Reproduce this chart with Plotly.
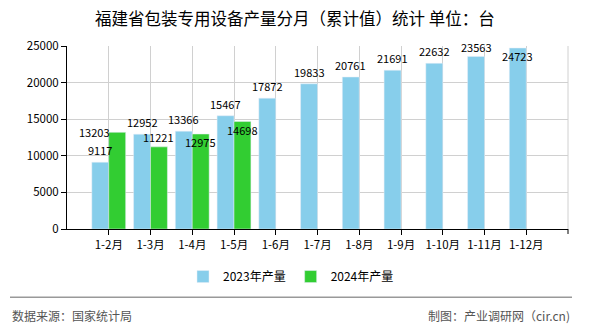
import plotly.graph_objects as go

categories = ["1-2月", "1-3月", "1-4月", "1-5月", "1-6月", "1-7月", "1-8月", "1-9月", "1-10月", "1-11月", "1-12月"]
values_2023 = [9117, 12952, 13366, 15467, 17872, 19833, 20761, 21691, 22632, 23563, 24723]
values_2024 = [13203, 11221, 12975, 14698]
series_names = ["2023年产量", "2024年产量"]
y_ticks = [0, 5000, 10000, 15000, 20000, 25000]

# label offsets (pixels) to mimic the reference label layout
shift_2023 = [(0, 12)] * 9 + [(0, 10), (0, -8)]
shift_2024 = [(-23, 0), (0, 10), (0, -8), (0, -9)]

C23 = "#87CEEB"
C24 = "#32CD32"
FONT = "Noto Sans CJK SC, Liberation Sans, sans-serif"

fig = go.Figure()
fig.add_trace(go.Bar(x=categories, y=values_2023, name=series_names[0], marker_color=C23))
fig.add_trace(go.Bar(x=categories[:len(values_2024)], y=values_2024, name=series_names[1], marker_color=C24))

half = 8.4
for c, v, (dx, dy) in zip(categories, values_2023, shift_2023):
    fig.add_annotation(x=c, y=v, text=str(v), showarrow=False, xshift=-half + dx, yshift=dy,
                       yanchor="middle", font=dict(size=11, color="#000", family=FONT))
for c, v, (dx, dy) in zip(categories, values_2024, shift_2024):
    fig.add_annotation(x=c, y=v, text=str(v), showarrow=False, xshift=half + dx, yshift=dy,
                       yanchor="middle", font=dict(size=11, color="#000", family=FONT))

# title
fig.add_annotation(text="福建省包装专用设备产量分月（累计值）统计 单位：台", xref="paper", yref="paper",
                   x=(295 - 67) / 501, y=(229.3 - 18) / 183.6, showarrow=False,
                   xanchor="center", yanchor="middle",
                   font=dict(size=16.5, color="#000", family=FONT))
# footer
fig.add_annotation(text="数据来源：国家统计局", xref="paper", yref="paper",
                   x=(10 - 67) / 501, y=(229.3 - 316) / 183.6, showarrow=False,
                   xanchor="left", yanchor="middle", font=dict(size=12, color="#555", family=FONT))
fig.add_annotation(text="制图：产业调研网（cir.cn)", xref="paper", yref="paper",
                   x=(572 - 67) / 501, y=(229.3 - 316) / 183.6, showarrow=False,
                   xanchor="right", yanchor="middle", font=dict(size=12, color="#555", family=FONT))
fig.add_shape(type="line", xref="paper", yref="paper",
              x0=(10 - 67) / 501, x1=(572 - 67) / 501,
              y0=(229.3 - 297.7) / 183.6, y1=(229.3 - 297.7) / 183.6,
              line=dict(color="#999", width=1.5))
# right border grid line with tick
fig.add_shape(type="line", xref="x domain", yref="y domain", x0=1, x1=1, y0=0, y1=1,
              line=dict(color="#d0d0d0", width=1))
fig.add_shape(type="line", xref="x domain", yref="y domain", x0=1, x1=1, y0=-5 / 183.6, y1=0,
              line=dict(color="#000", width=1))

fig.update_layout(
    width=590, height=330,
    margin=dict(l=67, r=22, t=46, b=101),
    paper_bgcolor="white", plot_bgcolor="white",
    barmode="group", bargap=0.19, bargroupgap=0,
    font=dict(family=FONT, size=12, color="#000"),
    showlegend=True,
    legend=dict(orientation="h", x=(291 - 67) / 501, xanchor="center",
                y=(229.3 - 277) / 183.6, yanchor="middle",
                font=dict(size=12, color="#000", family=FONT), itemclick=False),
    xaxis=dict(type="category", range=[-1, len(categories)], showgrid=True, gridcolor="#d0d0d0",
               showline=True, linecolor="#000", linewidth=1, ticks="outside", ticklen=5,
               tickcolor="#000", tickfont=dict(size=11.5, color="#000"), zeroline=False),
    yaxis=dict(range=[0, 25000], tickvals=y_ticks, ticktext=[str(t) for t in y_ticks],
               showgrid=True, gridcolor="#d0d0d0",
               showline=True, linecolor="#000", linewidth=1, ticks="outside", ticklen=5,
               tickcolor="#000", tickfont=dict(size=11.5, color="#000"), zeroline=False),
)

fig.write_html("out.html")
